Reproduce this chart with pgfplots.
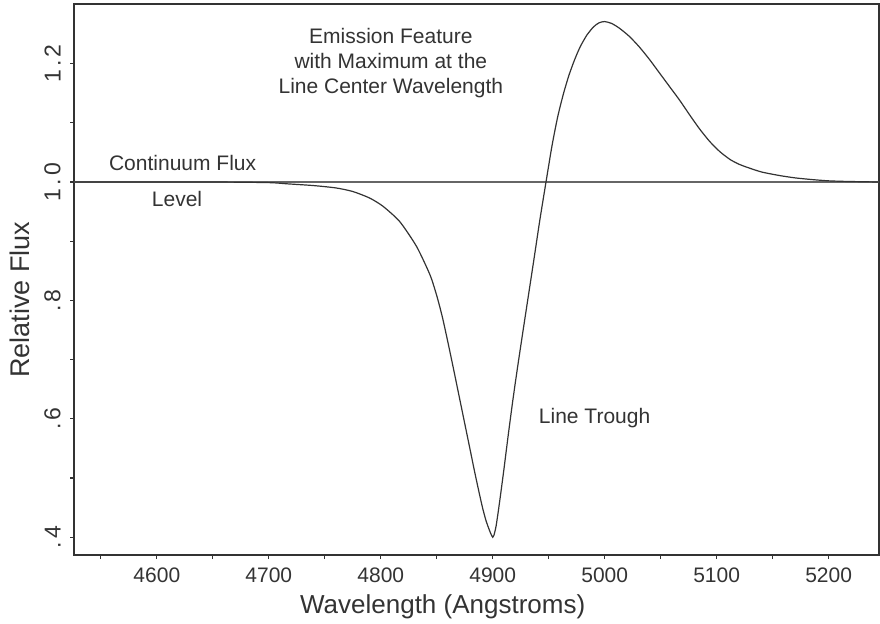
\documentclass[border=0pt]{standalone}
\usepackage{pgfplots}
\pgfplotsset{compat=1.18}
\usepackage{fontspec}
\setmainfont{Liberation Sans}
\definecolor{ink}{HTML}{333333}
\definecolor{cont}{HTML}{666666}
\begin{document}
\begin{tikzpicture}
\begin{axis}[
  name=ax,
  scale only axis,
  width=402.5pt, height=275.5pt,
  xmin=4526, xmax=5245, ymin=0.370, ymax=1.3007,
  axis line style={ink, line width=0.7pt},
  tick style={ink, line width=0.6pt},
  tick align=outside, tick pos=left,
  major tick length=2pt, minor tick length=2pt,
  xtick={4600,4700,4800,4900,5000,5100,5200},
  xticklabels={4600,4700,4800,4900,5000,5100,5200},
  minor xtick={4550,4650,4750,4850,4950,5050,5150},
  ytick={0.4,0.6,0.8,1.0,1.2},
  yticklabels={{.\hspace{1.5pt}4},{.\hspace{1.5pt}6},{.\hspace{1.5pt}8},{1\hspace{1.5pt}.\hspace{1.5pt}0},{1\hspace{1.5pt}.\hspace{1.5pt}2}},
  minor ytick={0.5,0.7,0.9,1.1},
  xticklabel style={font=\fontsize{10.5}{12}\selectfont, text=ink, yshift=-1pt},
  yticklabel style={font=\fontsize{11.5}{13}\selectfont, text=ink, rotate=90, anchor=south, inner sep=4.5pt},
  xlabel={Wavelength (Angstroms)},
  ylabel={Relative Flux},
  every axis x label/.style={at={(axis description cs:0.458,0)}, anchor=center, yshift=-26pt, font=\fontsize{13}{15}\selectfont, text=ink},
  every axis y label/.style={at={(axis description cs:-0.067,0.463)}, anchor=center, rotate=90, font=\fontsize{13.5}{15}\selectfont, text=ink},
  clip=true,
]
\coordinate (sw) at (rel axis cs:0,0);
\coordinate (ne) at (rel axis cs:1,1);
\addplot[cont, line width=0.6pt] coordinates {(4526,1.0) (5245,1.0)};
\addplot[ink, line width=0.6pt, smooth, tension=0.4] table {
x y
4526 1.000
4650 1.000
4700 0.999
4716 0.997
4740 0.994
4760 0.990
4775 0.984
4790 0.973
4802 0.959
4817 0.933
4832 0.891
4844 0.843
4850 0.808
4855 0.772
4860 0.729
4865 0.684
4870 0.638
4875 0.592
4880 0.546
4884 0.509
4888 0.474
4891 0.449
4894 0.428
4897 0.412
4899 0.403
4900 0.400
4901 0.403
4903 0.419
4906 0.458
4910 0.515
4914 0.575
4918 0.632
4922 0.685
4927 0.748
4932 0.810
4937 0.872
4942 0.935
4948 1.005
4953 1.062
4958 1.110
4963 1.148
4968 1.180
4973 1.206
4978 1.228
4984 1.248
4990 1.262
4995 1.269
5000 1.271
5006 1.268
5013 1.260
5022 1.246
5031 1.228
5040 1.207
5049 1.184
5058 1.161
5067 1.138
5076 1.113
5085 1.089
5094 1.068
5103 1.051
5112 1.038
5120 1.030
5127 1.025
5140 1.017
5156 1.011
5170 1.007
5186 1.004
5200 1.002
5216 1.001
5245 1.000
};
\node[font=\fontsize{10.5}{12.5}\selectfont, text=ink, align=center] at (axis cs:4809,1.201) {Emission Feature\\with Maximum at the\\Line Center Wavelength};
\node[font=\fontsize{10.5}{12.5}\selectfont, text=ink] at (axis cs:4623,1.032) {Continuum Flux};
\node[font=\fontsize{10.5}{12.5}\selectfont, text=ink] at (axis cs:4618,0.971) {Level};
\node[font=\fontsize{10.5}{12.5}\selectfont, text=ink] at (axis cs:4991,0.601) {Line Trough};
\end{axis}
\pgfresetboundingbox
\path ([shift={(-37pt,-34pt)}]sw) rectangle ([shift={(0.5pt,2pt)}]ne);
\end{tikzpicture}
\end{document}
